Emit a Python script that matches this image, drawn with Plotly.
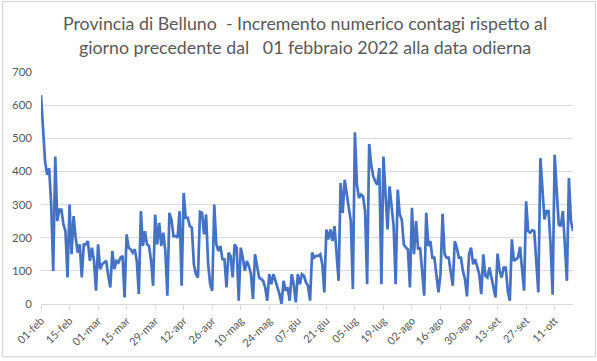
import pandas as pd
import plotly.graph_objects as go

start_date = "2022-02-01"

values = [
    630, 520, 430, 390, 410, 300, 100,
    445, 250, 285, 285, 240, 220, 80,
    300, 150, 265, 200, 155, 180, 80,
    180, 180, 190, 130, 170, 130, 40,
    180, 105, 120, 125, 130, 85, 50,
    160, 105, 130, 125, 140, 145, 20,
    210, 170, 165, 155, 165, 130, 30,
    280, 175, 220, 180, 175, 130, 55,
    270, 180, 245, 175, 215, 160, 25,
    275, 255, 205, 205, 200, 280, 55,
    335, 260, 260, 235, 230, 120, 90,
    80, 278, 275, 210, 270, 120, 60,
    40, 300, 180, 160, 175, 135, 135,
    50, 155, 145, 80, 180, 170, 10,
    170, 140, 100, 130, 115, 90, 15,
    150, 110, 80, 75, 70, 50, 10,
    90, 60, 90, 70, 55, 30, 0,
    70, 40, 50, 10, 90, 60, 5,
    90, 60, 90, 85, 65, 55, 10,
    155, 140, 145, 145, 150, 120, 35,
    225, 195, 225, 190, 235, 150, 70,
    365, 275, 375, 325, 290, 250, 45,
    518, 360, 320, 330, 325, 280, 60,
    483, 420, 385, 370, 360, 410, 60,
    445, 320, 225, 355, 290, 235, 60,
    345, 270, 255, 180, 170, 165, 50,
    290, 150, 250, 165, 170, 100, 25,
    275, 175, 190, 140, 140, 90, 35,
    90, 272, 150, 140, 140, 100, 55,
    190, 170, 140, 140, 100, 75, 23,
    150, 170, 120, 135, 115, 90, 30,
    150, 85, 80, 110, 80, 45, 20,
    152, 100, 80, 110, 110, 40, 10,
    195, 130, 135, 140, 172, 100, 40,
    310, 220, 215, 222, 220, 120, 35,
    440, 340, 255, 280, 280, 180, 28,
    450, 340, 240, 235, 280, 180, 70,
    380, 250, 220,
]

tick_labels = ["01-feb", "15-feb", "01-mar", "15-mar", "29-mar", "12-apr", "26-apr",
               "10-mag", "24-mag", "07-giu", "21-giu", "05-lug", "19-lug", "02-ago",
               "16-ago", "30-ago", "13-set", "27-set", "11-ott"]

title_lines = ["Provincia di Belluno  - Incremento numerico contagi rispetto al",
               "giorno precedente dal   01 febbraio 2022 alla data odierna"]

dates = pd.date_range(start_date, periods=len(values), freq="D")
tick_dates = pd.date_range(start_date, periods=len(tick_labels), freq="14D")

PLOT_W, PLOT_H = 534, 235

fig = go.Figure()
fig.add_trace(go.Scatter(
    x=dates, y=values, mode="lines",
    line=dict(color="#4472C4", width=2.7),
    hoverinfo="x+y",
))

font_family = "Lato, 'Open Sans', sans-serif"

annotations = []
for i, line in enumerate(title_lines):
    annotations.append(dict(
        text=line, xref="paper", yref="paper",
        x=0.5 - 2 / PLOT_W, y=1 + (50 - 25 * i) / PLOT_H,
        xanchor="center", yanchor="middle", showarrow=False,
        font=dict(family=font_family, size=17.8, color="#595959"),
    ))

fig.update_layout(
    width=597, height=361,
    margin=dict(l=39, r=24, t=72, b=54),
    paper_bgcolor="white", plot_bgcolor="white",
    showlegend=False,
    font=dict(family=font_family, color="#595959", size=11),
    annotations=annotations,
    xaxis=dict(
        type="date",
        range=[dates[0], dates[-1]],
        tickmode="array", tickvals=tick_dates, ticktext=tick_labels,
        tickangle=-45, showgrid=False,
        showline=True, linecolor="#d9d9d9", linewidth=1,
        ticks="outside", ticklen=5, tickcolor="#d9d9d9",
        tickfont=dict(size=11, color="#595959"),
        zeroline=False,
    ),
    yaxis=dict(
        range=[0, 700], dtick=100, tick0=0,
        showgrid=True, gridcolor="#d9d9d9", gridwidth=1,
        zeroline=False, showline=False,
        tickfont=dict(size=11.5, color="#595959"),
        ticks="", ticklabelstandoff=8,
    ),
    shapes=[dict(
        type="rect", xref="paper", yref="paper",
        x0=-38.5 / PLOT_W, x1=1 + 22.5 / PLOT_W, y0=-53.5 / PLOT_H, y1=1 + 71.5 / PLOT_H,
        line=dict(color="#cfcfcf", width=1), fillcolor="rgba(0,0,0,0)",
        layer="below",
    )],
)

fig.write_html(
    "out.html",
    config={"displayModeBar": False},
    post_script="document.body.style.margin='0';document.body.style.overflow='hidden';",
)
